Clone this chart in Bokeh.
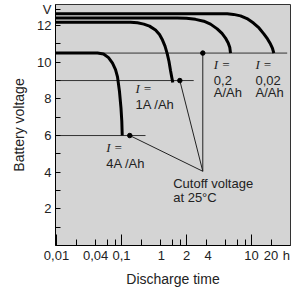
import math
from bokeh.plotting import figure
from bokeh.models import FixedTicker, LogAxis, Title
from bokeh.core.properties import value
from bokeh.embed import file_html
from bokeh.resources import INLINE

# ---------------- data ----------------
x_start, x_end = 0.00965, 39.8         # discharge time, h (log)
y_start, y_end = 0.0, 13.15            # battery voltage, V

# discharge curves (time in h, voltage in V)
t_4A = [0.00965, 0.0427, 0.0529, 0.0631, 0.0727, 0.0809, 0.0868, 0.0931, 0.0982, 0.101, 0.1026]
v_4A = [10.5, 10.5, 10.45, 10.25, 9.95, 9.6, 9.2, 8.4, 7.5, 6.8, 6.0]

t_1A = [0.00965, 0.1376, 0.1762, 0.2203, 0.2697, 0.3335, 0.3842, 0.4273, 0.4669, 0.5047, 0.5379, 0.5674, 0.5939, 0.6153]
v_1A = [12.18, 12.18, 12.15, 12.08, 11.97, 11.76, 11.51, 11.21, 10.88, 10.47, 10.04, 9.55, 9.17, 8.89]

t_02 = [0.00965, 0.719, 1.0, 1.375, 1.846, 2.34, 2.968, 3.517, 3.981, 4.381, 4.637, 4.752]
v_02 = [12.42, 12.42, 12.40, 12.34, 12.24, 12.08, 11.82, 11.57, 11.32, 11.05, 10.80, 10.5]

t_002 = [0.00965, 4.229, 5.285, 6.772, 8.527, 10.73, 13.05, 15.46, 17.63, 19.6, 21.05, 22.03]
v_002 = [12.64, 12.64, 12.61, 12.53, 12.38, 12.14, 11.87, 11.55, 11.27, 10.99, 10.75, 10.5]

# cutoff voltage reference lines: level (V) and end time (h)
cutoff_levels = [10.5, 9.0, 6.0]
cutoff_ends = [35.4, 1.29, 0.234]

# cutoff markers and annotation apex
marker_t = [0.134, 0.789, 1.78]
marker_v = [6.0, 9.0, 10.5]
apex_t, apex_v = 1.78, 4.05

# axis ticks
x_major = [0.01, 0.1, 1, 10]
x_minor = [0.02, 0.04, 0.06, 0.08, 0.2, 0.4, 0.6, 0.8, 2, 4, 6, 8, 20]
x_label_pos = [0.01, 0.04, 0.1, 0.41, 1.0, 2.15, 10, 20, 34.5]
x_label_txt = ["0,01", "0,04", "0,1", "1", "2", "4", "10", "20", "h"]
y_major = [2, 4, 6, 8, 10, 12, 12.85]
y_major_txt = ["2", "4", "6", "8", "10", "12", "V"]
y_minor = [1, 3, 5, 7, 9, 11]

SANS = "Liberation Sans"
SERIF = "Liberation Serif"
TXT = "#222222"

p = figure(width=292, height=290, x_axis_type="log",
           x_range=(x_start, x_end), y_range=(y_start, y_end),
           output_backend="svg", toolbar_location=None,
           min_border_left=55, min_border_right=2, min_border_top=4, min_border_bottom=45,
           background_fill_color="#d4d4d4", border_fill_color="white")
p.grid.visible = False
p.outline_line_color = "#333333"
p.outline_line_width = 1

# y axis
ya = p.yaxis[0]
ya.ticker = FixedTicker(ticks=y_major, minor_ticks=y_minor)
ya.major_label_overrides = {k: v for k, v in zip(y_major, y_major_txt)}
ya.major_tick_in = 5
ya.major_tick_out = 0
ya.minor_tick_in = 5
ya.minor_tick_out = 0
ya.axis_line_color = "black"
ya.major_tick_line_color = "black"
ya.minor_tick_line_color = "black"
ya.major_label_standoff = 4
ya.major_label_text_font = SANS
ya.major_label_text_font_size = "13px"
ya.major_label_text_color = TXT

# x axis: ticks only
xa = p.xaxis[0]
xa.ticker = FixedTicker(ticks=x_major, minor_ticks=x_minor)
xa.major_tick_in = 11
xa.major_tick_out = 0
xa.minor_tick_in = 6
xa.minor_tick_out = 0
xa.axis_line_color = "black"
xa.major_tick_line_color = "black"
xa.minor_tick_line_color = "black"
xa.major_label_text_font_size = "1px"
xa.major_label_text_alpha = 0
xa.major_label_standoff = 0

# x axis: labels only
xl = LogAxis(ticker=FixedTicker(ticks=x_label_pos, minor_ticks=[]))
xl.major_label_overrides = {k: v for k, v in zip(x_label_pos, x_label_txt)}
xl.axis_line_color = None
xl.major_tick_line_color = None
xl.minor_tick_line_color = None
xl.major_tick_in = 0
xl.major_tick_out = 0
xl.major_label_standoff = 2
xl.major_label_text_font = SANS
xl.major_label_text_font_size = "13px"
xl.major_label_text_color = TXT
xl.axis_label = "Discharge time"
xl.axis_label_standoff = 5
xl.axis_label_text_font = SANS
xl.axis_label_text_font_size = "14px"
xl.axis_label_text_font_style = "normal"
xl.axis_label_text_color = TXT
p.add_layout(xl, "below")

# y axis title (placed lower than centre, as in the reference)
p.add_layout(Title(text="Battery voltage", align="center", offset=-22, standoff=16,
                   text_font=SANS, text_font_size="14px", text_font_style="normal",
                   text_color=TXT), "left")

# reference cutoff lines
for lv, le in zip(cutoff_levels, cutoff_ends):
    p.line([x_start, le], [lv, lv], line_color="#333333", line_width=1)

# discharge curves
for t, v in [(t_4A, v_4A), (t_1A, v_1A), (t_02, v_02), (t_002, v_002)]:
    p.line(t, v, line_color="black", line_width=3)

# cutoff annotation lines
p.segment(x0=marker_t, y0=marker_v, x1=[apex_t] * 3, y1=[apex_v] * 3,
          line_color=TXT, line_width=1)
p.scatter(marker_t, marker_v, size=4.5, color="black")

# curve labels
i_x = [0.1642, 0.0581, 2.63, 11.52]
i_y = [8.55, 5.36, 9.86, 9.86]
p.text(i_x, i_y, text=["I ="] * 4, text_font=value(SERIF), text_font_style="italic",
       text_font_size="13px", text_baseline="alphabetic", text_align="left", text_color=TXT)
lab_x = [0.1642, 0.0581, 2.63, 11.52, 2.63, 11.52]
lab_y = [7.68, 4.49, 9.0, 9.0, 8.36, 8.36]
lab_t = ["1A /Ah", "4A /Ah", "0,2", "0,02", "A/Ah", "A/Ah"]
p.text(lab_x, lab_y, text=lab_t, text_font=value(SANS), text_font_size="13px",
       text_baseline="alphabetic", text_align="left", text_color=TXT)
p.text([0.624, 0.624], [3.37, 2.60], text=["Cutoff voltage", "at 25°C"],
       text_font=value(SANS), text_font_size="13px",
       text_baseline="alphabetic", text_align="left", text_color=TXT)

open("out.html", "w").write(file_html(p, INLINE))
